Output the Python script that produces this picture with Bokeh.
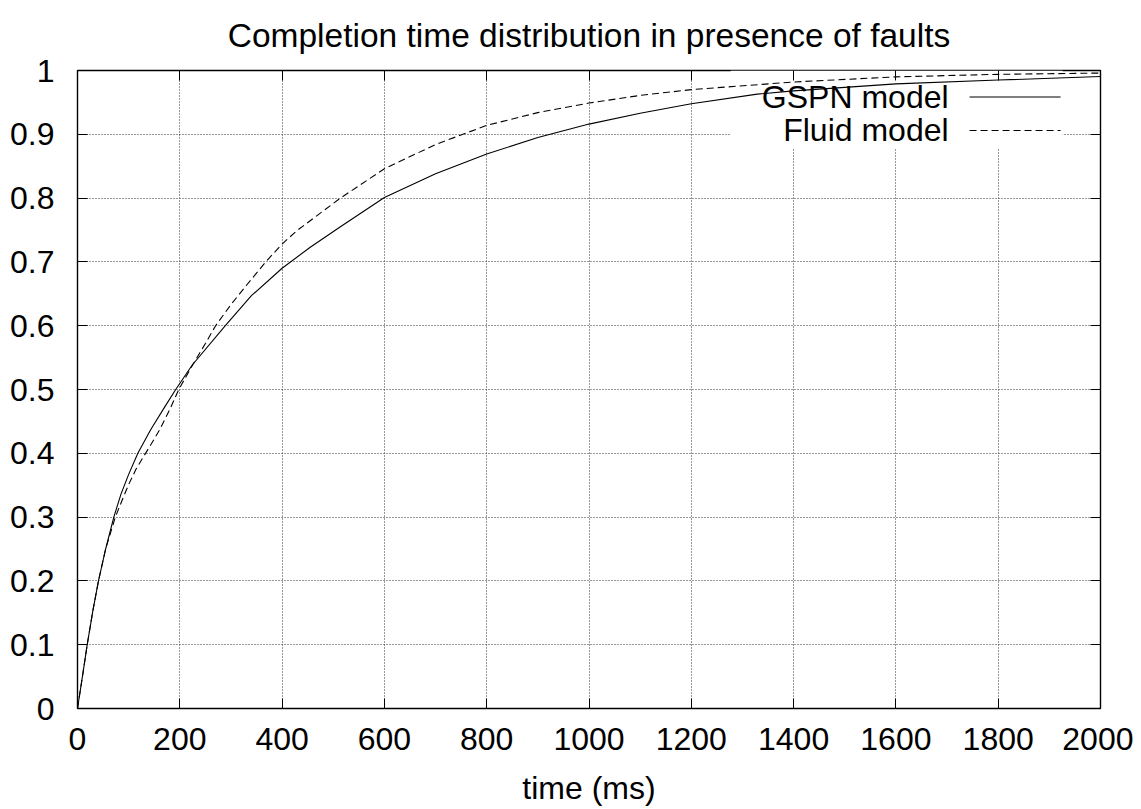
from bokeh.plotting import figure
from bokeh.models import LinearAxis, Range1d, FixedTicker, BoxAnnotation, Label, Grid
from bokeh.embed import file_html
from bokeh.resources import INLINE

# ---- data ----
gspn_t = [0, 10, 19, 30, 41, 55, 71, 85, 100, 118, 143, 170, 192, 224, 289, 340, 400, 455,
          514, 600, 700, 800, 900, 1000, 1100, 1200, 1329, 1400, 1600, 1800, 2000]
gspn_v = [0.0, 0.052, 0.100, 0.153, 0.200, 0.250, 0.300, 0.336, 0.367, 0.400, 0.437, 0.472,
          0.500, 0.538, 0.600, 0.647, 0.690, 0.723, 0.755, 0.801, 0.838, 0.869, 0.895, 0.916,
          0.933, 0.948, 0.963, 0.968, 0.979, 0.985, 0.9906]

fluid_t = [0, 10, 19, 30, 41, 55, 74, 88, 100, 115, 130, 143, 160, 180, 198, 224, 250, 270,
           300, 330, 368, 400, 429, 514, 600, 700, 800, 900, 1000, 1100, 1200, 1400, 1600,
           1800, 2000]
fluid_v = [0.0, 0.052, 0.100, 0.153, 0.200, 0.250, 0.300, 0.328, 0.351, 0.376, 0.396, 0.413,
           0.436, 0.468, 0.500, 0.537, 0.572, 0.600, 0.633, 0.663, 0.700, 0.728, 0.749,
           0.800, 0.846, 0.884, 0.914, 0.934, 0.949, 0.961, 0.970, 0.982, 0.990, 0.994, 0.996]

x_ticks = [0, 200, 400, 600, 800, 1000, 1200, 1400, 1600, 1800, 2000]
y_ticks = [0, 0.1, 0.2, 0.3, 0.4, 0.5, 0.6, 0.7, 0.8, 0.9, 1]
y_tick_labels = ["0", "0.1", "0.2", "0.3", "0.4", "0.5", "0.6", "0.7", "0.8", "0.9", "1"]

series_names = ["GSPN model", "Fluid model"]
title_text = "Completion time distribution in presence of faults"
x_label = "time (ms)"

FONT = "Liberation Sans"
FS = "32px"

p = figure(frame_width=1023, frame_height=638,
           x_range=Range1d(0, 2000), y_range=Range1d(0, 1),
           output_backend="svg", toolbar_location=None,
           min_border_left=77, min_border_right=33, min_border_top=70, min_border_bottom=10,
           x_axis_type=None, y_axis_type=None, title=title_text)

p.title.text_font = FONT
p.title.text_font_size = "33.5px"
p.title.text_font_style = "normal"
p.title.align = "center"
p.title.vertical_align = "top"
p.title.text_color = "black"
p.title.standoff = 30

p.outline_line_color = "black"
p.outline_line_width = 1.4
p.background_fill_color = "white"
p.border_fill_color = "white"


def make_axis(ticks, show_labels, standoff=0, overrides=None):
    ax = LinearAxis(ticker=FixedTicker(ticks=ticks))
    ax.axis_line_color = None
    ax.major_tick_in = 10
    ax.major_tick_out = 0
    ax.major_tick_line_color = "black"
    ax.major_tick_line_width = 1
    ax.minor_tick_line_color = None
    if show_labels:
        ax.major_label_text_font = FONT
        ax.major_label_text_font_size = FS
        ax.major_label_text_color = "black"
        ax.major_label_standoff = standoff
        if overrides:
            ax.major_label_overrides = overrides
    else:
        ax.major_label_text_font_size = "1px"
        ax.major_label_text_color = None
        ax.major_label_standoff = 0
    return ax


xb = make_axis(x_ticks, True, standoff=19)
xb.axis_label = x_label
xb.axis_label_text_font = FONT
xb.axis_label_text_font_size = FS
xb.axis_label_text_font_style = "normal"
xb.axis_label_text_color = "black"
xb.axis_label_standoff = 17
p.add_layout(xb, "below")
p.add_layout(make_axis(y_ticks, True, standoff=23,
                       overrides={v: s for v, s in zip(y_ticks, y_tick_labels)}), "left")
p.add_layout(make_axis(x_ticks, False), "above")
p.add_layout(make_axis(y_ticks, False), "right")

# grid
for dim, ticks in ((0, x_ticks), (1, y_ticks)):
    g = Grid(dimension=dim, ticker=FixedTicker(ticks=ticks))
    g.grid_line_color = "#333333"
    g.grid_line_dash = "1 2"
    g.grid_line_width = 1
    g.level = "image"
    p.add_layout(g)

# legend area (white key box hides the grid)
KEY_LEFT, KEY_RIGHT, KEY_BOTTOM = 1277, 1926, 0.878
p.add_layout(BoxAnnotation(left=KEY_LEFT, right=KEY_RIGHT, bottom=KEY_BOTTOM, top=1,
                           fill_color="white", fill_alpha=1, line_color=None,
                           level="underlay"))

# curves
p.line(gspn_t, gspn_v, line_color="black", line_width=1.1)
p.line(fluid_t, fluid_v, line_color="black", line_width=1.1, line_dash="7 4")

# custom key: text then sample
KEY_TEXT_X = 1703
KEY_SAMPLE_X0, KEY_SAMPLE_X1 = 1744, 1922
KEY_ROWS = [0.9585, 0.906]
dashes = ["solid", "7 4"]
for name, yrow, dash in zip(series_names, KEY_ROWS, dashes):
    p.add_layout(Label(x=KEY_TEXT_X, y=yrow, text=name, text_align="right",
                       text_baseline="middle", text_font=FONT, text_font_size=FS,
                       text_color="black"))
    p.segment(x0=[KEY_SAMPLE_X0], y0=[yrow], x1=[KEY_SAMPLE_X1], y1=[yrow],
              line_color="black", line_width=1.1, line_dash=dash)

open("out.html", "w").write(file_html(p, INLINE))
